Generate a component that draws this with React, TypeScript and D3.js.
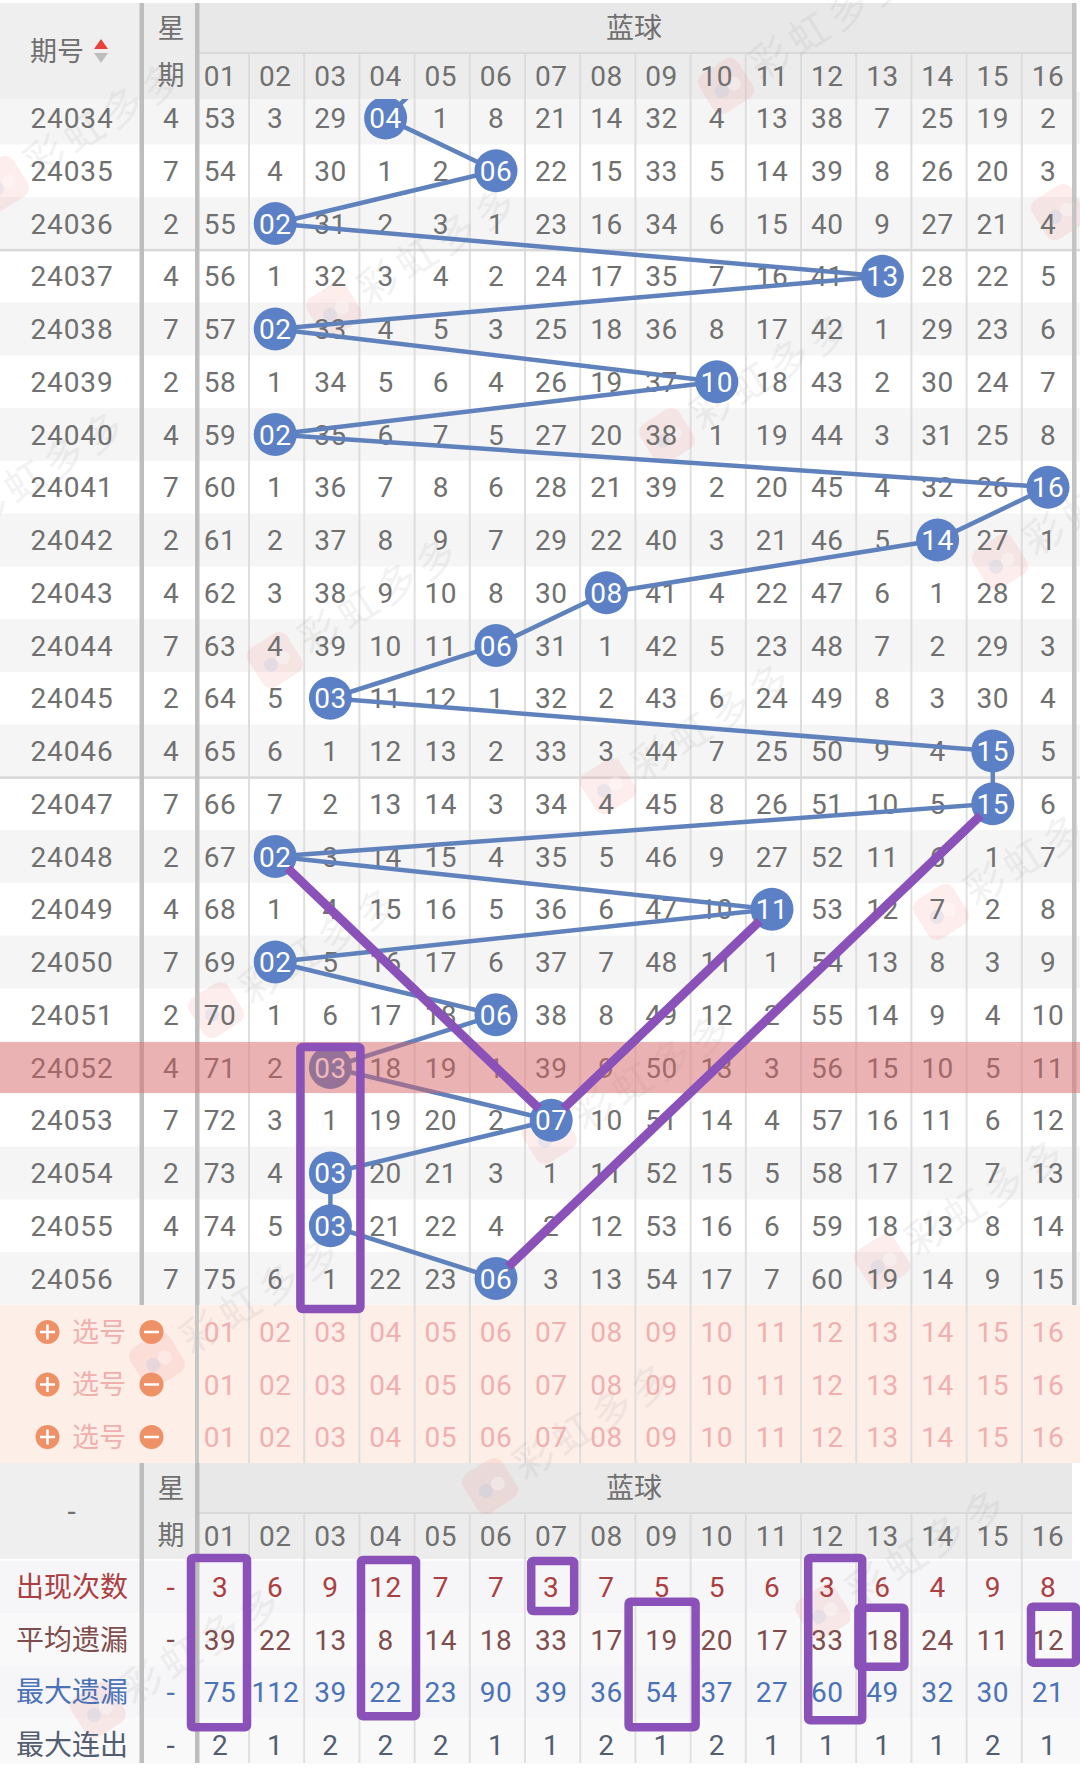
import React from "react";
import * as d3 from "d3";

const BALL_LABELS = ["01","02","03","04","05","06","07","08","09","10","11","12","13","14","15","16"];
const PERIODS = ["24034","24035","24036","24037","24038","24039","24040","24041","24042","24043","24044","24045","24046","24047","24048","24049","24050","24051","24052","24053","24054","24055","24056"];
const WEEKDAYS = [4,7,2,4,7,2,4,7,2,4,7,2,4,7,2,4,7,2,4,7,2,4,7];
const PRIOR_PERIOD = "24033";
const PRIOR_BALL = "05";
const DRAWN_BALLS = ["04","06","02","13","02","10","02","16","14","08","06","03","15","15","02","11","02","06","03","07","03","03","06"];
const OMISSIONS = [
  [53,3,29,0,1,8,21,14,32,4,13,38,7,25,19,2],
  [54,4,30,1,2,0,22,15,33,5,14,39,8,26,20,3],
  [55,0,31,2,3,1,23,16,34,6,15,40,9,27,21,4],
  [56,1,32,3,4,2,24,17,35,7,16,41,0,28,22,5],
  [57,0,33,4,5,3,25,18,36,8,17,42,1,29,23,6],
  [58,1,34,5,6,4,26,19,37,0,18,43,2,30,24,7],
  [59,0,35,6,7,5,27,20,38,1,19,44,3,31,25,8],
  [60,1,36,7,8,6,28,21,39,2,20,45,4,32,26,0],
  [61,2,37,8,9,7,29,22,40,3,21,46,5,0,27,1],
  [62,3,38,9,10,8,30,0,41,4,22,47,6,1,28,2],
  [63,4,39,10,11,0,31,1,42,5,23,48,7,2,29,3],
  [64,5,0,11,12,1,32,2,43,6,24,49,8,3,30,4],
  [65,6,1,12,13,2,33,3,44,7,25,50,9,4,0,5],
  [66,7,2,13,14,3,34,4,45,8,26,51,10,5,0,6],
  [67,0,3,14,15,4,35,5,46,9,27,52,11,6,1,7],
  [68,1,4,15,16,5,36,6,47,10,0,53,12,7,2,8],
  [69,0,5,16,17,6,37,7,48,11,1,54,13,8,3,9],
  [70,1,6,17,18,0,38,8,49,12,2,55,14,9,4,10],
  [71,2,0,18,19,1,39,9,50,13,3,56,15,10,5,11],
  [72,3,1,19,20,2,0,10,51,14,4,57,16,11,6,12],
  [73,4,0,20,21,3,1,11,52,15,5,58,17,12,7,13],
  [74,5,0,21,22,4,2,12,53,16,6,59,18,13,8,14],
  [75,6,1,22,23,0,3,13,54,17,7,60,19,14,9,15],
];
const HIGHLIGHT_PERIOD = "24052";
const DIVIDER_AFTER = ["24036","24046"];
const SELECT_ROWS = ["a","b","c"];
const STAT_LABELS = ["出现次数","平均遗漏","最大遗漏","最大连出"];
const STAT_VALUES = [
  [3,6,9,12,7,7,3,7,5,5,6,3,6,4,9,8],
  [39,22,13,8,14,18,33,17,19,20,17,33,18,24,11,12],
  [75,112,39,22,23,90,39,36,54,37,27,60,49,32,30,21],
  [2,1,2,2,2,1,1,2,1,2,1,1,1,1,2,1],
];
const STAT_COLORS = ["#ab3f42","#7f4d4d","#4a72b6","#525d70"];
const PURPLE_SEGMENTS: [string,string,string,string][] = [
  ["24048","02","24053","07"],
  ["24053","07","24049","11"],
  ["24056","06","24047","15"],
];

const FONT = "Roboto, sans-serif";
const CJK = "'Noto Sans CJK SC', sans-serif";
const GREY = "#707070";
const BLUE = "#5b80c5";
const LINE = "#5f82bd";
const PURPLE = "#8a52b8";

const x = d3.scalePoint<string>().domain(BALL_LABELS).range([220, 1048]);
const y = d3.scalePoint<string>().domain([PRIOR_PERIOD, ...PERIODS]).range([65.25, 1278.5]);
const selY = d3.scalePoint<string>().domain(SELECT_ROWS).range([1332, 1437]);
const statY = d3.scalePoint<string>().domain(STAT_LABELS).range([1587, 1745]);
const ROW = 52.75;
const lineOf = d3.line<[number, number]>().x(d => d[0]).y(d => d[1]);

const ballPath: [number, number][] = [
  [x(PRIOR_BALL)!, y(PRIOR_PERIOD)!],
  ...PERIODS.map((p, i) => [x(DRAWN_BALLS[i])!, y(p)!] as [number, number]),
];

const T = ({ px, py, s = 28, fill = GREY, font = FONT, ls = 0.5, children }: any) => (
  <text x={px} y={py} dy="0.36em" textAnchor="middle" fontSize={s} fill={fill} fontFamily={font} letterSpacing={font === FONT ? ls : 0}>{children}</text>
);

function shortened(a: [number, number], b: [number, number], cut: number): [number, number][] {
  const len = Math.hypot(b[0] - a[0], b[1] - a[1]);
  const ux = (b[0] - a[0]) / len, uy = (b[1] - a[1]) / len;
  return [[a[0] + ux * cut, a[1] + uy * cut], [b[0] - ux * cut, b[1] - uy * cut]];
}

const Box = ({ x0, x1, y0, y1 }: any) => (
  <rect x={x0} y={y0} width={x1 - x0} height={y1 - y0} fill="none" stroke={PURPLE} strokeWidth={8.5} rx={2} />
);
const statBox = (col: string, r0: number, r1: number, l: number, r: number, t: number, b: number) => (
  <Box key={col + r0} x0={x(col)! - l} x1={x(col)! + r} y0={statY(STAT_LABELS[r0])! - t} y1={statY(STAT_LABELS[r1])! + b} />
);

const wmSpots: [number, number][] = [];
for (const i of d3.range(-3, 5)) for (const j of d3.range(-2, 6)) {
  const px = 334 + 333 * i - 59 * j, py = 310 + 126 * i + 350 * j;
  if (px > -60 && px < 1130 && py > -40 && py < 1800) wmSpots.push([px, py]);
}

const Header = ({ top }: { top: number }) => (
  <g>
    <rect x={0} y={top} width={141} height={96} fill="#efefef" />
    <rect x={141} y={top} width={56} height={96} fill="#ececec" />
    <rect x={197} y={top} width={875} height={49} fill="#e8e8e8" />
    <rect x={197} y={top + 49} width={875} height={2} fill="#d9d9d9" />
    <rect x={197} y={top + 51} width={875} height={45} fill="#ececec" />
    {BALL_LABELS.slice(0, -1).map(c => (
      <rect key={c} x={x(c)! + 28} y={top + 51} width={2} height={45} fill="#dcdcdc" />
    ))}
  </g>
);
const HeaderText = ({ top }: { top: number }) => (
  <g>
    <T px={171} py={top + 25} s={27} font={CJK}>星</T>
    <T px={171} py={top + 72} s={27} font={CJK}>期</T>
    <T px={634} py={top + 25} s={28} font={CJK}>蓝球</T>
    {BALL_LABELS.map(c => <T key={c} px={x(c)} py={top + 73}>{c}</T>)}
  </g>
);

export default function App() {
  return (
    <svg width={1080} height={1770} viewBox="0 0 1080 1770"
      style={{ position: "absolute", left: 0, top: 0, display: "block", background: "#fff" }}>
      <defs>
        <clipPath id="rowsClip"><rect x={0} y={99} width={1080} height={1300} /></clipPath>
      </defs>

      {/* backgrounds */}
      {PERIODS.map((p, i) => i % 2 === 0 && (
        <rect key={p} x={0} y={y(p)! - ROW / 2} width={1080} height={ROW} fill="#f5f5f5" />
      ))}
      <rect x={0} y={1305} width={1080} height={158} fill="#fdeee8" />
      {STAT_LABELS.map((s, i) => (
        <rect key={s} x={0} y={statY(s)! - ROW / 2} width={1080} height={i === 3 ? 45 : ROW} fill={i % 2 ? "#f9f9f9" : "#f6f5f7"} />
      ))}

      {/* thin grid */}
      {BALL_LABELS.slice(0, -1).map(c => (
        <g key={c}>
          <rect x={x(c)! + 28} y={99} width={2} height={1364} fill="#dedede" />
          <rect x={x(c)! + 28} y={1559} width={2} height={204} fill="#e0e0e0" />
        </g>
      ))}
      {DIVIDER_AFTER.map(p => (
        <rect key={p} x={0} y={y(p)! + ROW / 2 - 1} width={1080} height={2.5} fill="#d8d8d8" />
      ))}

      <Header top={3} />
      <Header top={1463} />

      {/* watermark */}
      {wmSpots.map(([px, py], i) => (
        <g key={i} transform={`translate(${px},${py}) rotate(-32)`}>
          <rect x={-23} y={-23} width={46} height={46} rx={10} fill="#ef8378" opacity={0.14} />
          <circle cx={-6} cy={2} r={7} fill="#9fbde8" opacity={0.2} />
          <circle cx={8} cy={2} r={7} fill="#ffffff" opacity={0.35} />
          <text x={32} y={14} fontSize={40} fontFamily={CJK} fill="#888" opacity={0.1} letterSpacing={6}>彩虹多多</text>
        </g>
      ))}

      {/* body text */}
      {PERIODS.map((p, i) => (
        <g key={p}>
          <T px={72} py={y(p)} ls={0.9}>{p}</T>
          <T px={171} py={y(p)}>{WEEKDAYS[i]}</T>
          {OMISSIONS[i].map((v, k) => v > 0 && <T key={k} px={x(BALL_LABELS[k])} py={y(p)}>{v}</T>)}
        </g>
      ))}

      {/* trend line and balls */}
      <g clipPath="url(#rowsClip)">
        <path d={lineOf(ballPath)!} fill="none" stroke={LINE} strokeWidth={4.5} />
        {PERIODS.map((p, i) => (
          <g key={p}>
            <circle cx={x(DRAWN_BALLS[i])} cy={y(p)} r={21.5} fill={BLUE} />
            <T px={x(DRAWN_BALLS[i])} py={y(p)} fill="#fff">{DRAWN_BALLS[i]}</T>
          </g>
        ))}
      </g>

      {/* thick separators */}
      <rect x={139.5} y={3} width={4.5} height={1302} fill="#bdbdbd" />
      <rect x={195} y={3} width={4.5} height={1302} fill="#bdbdbd" />
      <rect x={195} y={1305} width={4} height={158} fill="#c6c6c6" />
      <rect x={1072} y={3} width={4.5} height={1302} fill="#c4c4c4" />
      <rect x={139.5} y={1463} width={4.5} height={300} fill="#bdbdbd" />
      <rect x={195} y={1463} width={4.5} height={300} fill="#bdbdbd" />

      {/* highlighted period */}
      <rect x={0} y={y(HIGHLIGHT_PERIOD)! - 25.5} width={1080} height={51} fill="rgb(222,97,100)" opacity={0.45} />

      {/* header text */}
      <HeaderText top={3} />
      <T px={57} py={51} s={27} font={CJK}>期号</T>
      <path d="M94,49 L108,49 L101,39 Z" fill="#e8403c" />
      <path d="M94,53 L108,53 L101,63 Z" fill="#bdbdbd" />

      {/* select rows */}
      {SELECT_ROWS.map(r => (
        <g key={r}>
          <circle cx={47.5} cy={selY(r)} r={12} fill="#ee9167" />
          <path d={`M40,${selY(r)} h15 M47.5,${selY(r)! - 7.5} v15`} stroke="#fff" strokeWidth={2.5} />
          <T px={99} py={selY(r)} s={27} font={CJK} fill="#f0b0ae">选号</T>
          <circle cx={151.5} cy={selY(r)} r={12} fill="#ee9167" />
          <path d={`M144,${selY(r)} h15`} stroke="#fff" strokeWidth={2.5} />
          {BALL_LABELS.map(c => <T key={c} px={x(c)} py={selY(r)} fill="#f0b0b0">{c}</T>)}
        </g>
      ))}

      {/* summary table */}
      <HeaderText top={1463} />
      <T px={72} py={1511} s={30}>-</T>
      {STAT_LABELS.map((s, i) => (
        <g key={s}>
          <T px={72} py={statY(s)} font={CJK} fill={STAT_COLORS[i]}>{s}</T>
          <T px={171} py={statY(s)} s={30} fill={STAT_COLORS[i]}>-</T>
          {STAT_VALUES[i].map((v, k) => <T key={k} px={x(BALL_LABELS[k])} py={statY(s)} fill={STAT_COLORS[i]} ls={v > 99 ? 0 : 0.5}>{v}</T>)}
        </g>
      ))}

      {/* purple annotations */}
      {PURPLE_SEGMENTS.map(([p0, c0, p1, c1]) => (
        <path key={p0 + c0} fill="none" stroke={PURPLE} strokeWidth={9}
          d={lineOf(shortened([x(c0)!, y(p0)!], [x(c1)!, y(p1)!], 17))!} />
      ))}
      <Box x0={x("03")! - 30} x1={x("03")! + 30} y0={y(HIGHLIGHT_PERIOD)! - 20.5} y1={y("24056")! + 30.5} />
      {statBox("01", 0, 2, 29, 27, 29, 35)}
      {statBox("04", 0, 2, 24.6, 30.4, 27, 24)}
      {statBox("07", 0, 0, 20, 23, 26, 24)}
      {statBox("09", 1, 2, 33, 34, 38, 35)}
      {statBox("12", 0, 2, 19, 35, 29, 28)}
      {statBox("13", 1, 1, 24, 22, 32, 27)}
      {statBox("16", 1, 1, 17, 28, 33, 23)}
    </svg>
  );
}
